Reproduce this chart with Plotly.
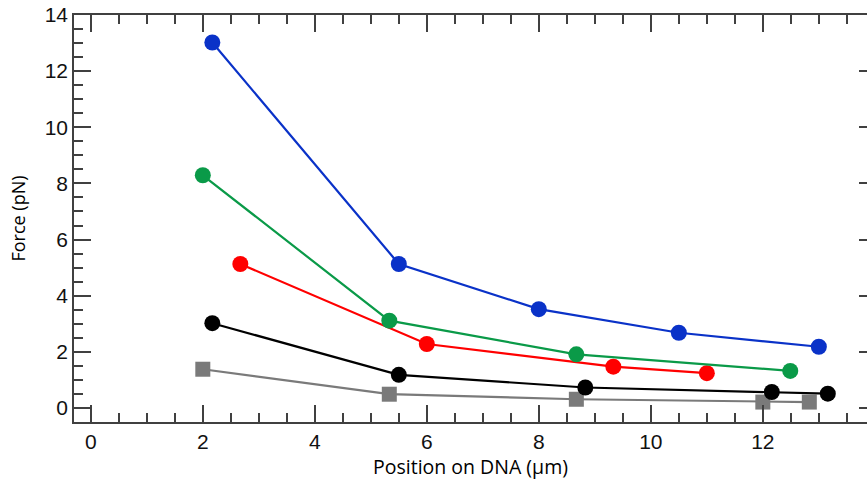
import plotly.graph_objects as go

# Data
blue_x = [2.17, 5.5, 8.0, 10.5, 13.0]
blue_y = [13.02, 5.13, 3.52, 2.68, 2.18]
green_x = [2.0, 5.33, 8.67, 12.49]
green_y = [8.29, 3.11, 1.91, 1.32]
red_x = [2.67, 6.0, 9.33, 11.0]
red_y = [5.13, 2.28, 1.47, 1.24]
black_x = [2.17, 5.5, 8.83, 12.16, 13.16]
black_y = [3.02, 1.18, 0.73, 0.57, 0.51]
gray_x = [2.0, 5.33, 8.67, 12.0, 12.83]
gray_y = [1.38, 0.49, 0.31, 0.21, 0.21]

x_ticks = [0, 2, 4, 6, 8, 10, 12]
y_ticks = [0, 2, 4, 6, 8, 10, 12, 14]

series = [
    (gray_x, gray_y, "#7a7a7a", "square"),
    (black_x, black_y, "#000000", "circle"),
    (red_x, red_y, "#ff0000", "circle"),
    (green_x, green_y, "#0a9a48", "circle"),
    (blue_x, blue_y, "#0a32c8", "circle"),
]

fig = go.Figure()
for xs, ys, col, sym in series:
    fig.add_trace(go.Scatter(
        x=xs, y=ys, mode="lines+markers",
        line=dict(color=col, width=2.2),
        marker=dict(color=col, size=15 if sym == "square" else 16, symbol=sym,
                    line=dict(width=0)),
        showlegend=False, cliponaxis=False,
    ))

# invisible trace for right-hand tick axis
fig.add_trace(go.Scatter(x=[0], y=[0], yaxis="y2", mode="markers",
                         marker=dict(opacity=0), showlegend=False, hoverinfo="skip"))

axcol = "#404040"
tickfont = dict(family="Liberation Sans, Arial", size=21, color="#111111")

fig.update_layout(
    width=867, height=483,
    margin=dict(l=74, r=0, t=15, b=61),
    paper_bgcolor="white", plot_bgcolor="white",
    xaxis=dict(
        range=[-0.3, 13.86], tickvals=x_ticks, ticktext=[str(v) for v in x_ticks],
        ticks="inside", ticklen=17, tickwidth=1.5, tickcolor=axcol,
        minor=dict(dtick=0.5, ticks="inside", ticklen=9, tickwidth=1.5, tickcolor=axcol),
        showline=True, linecolor=axcol, linewidth=1.5, mirror="ticks",
        showgrid=False, zeroline=False, tickfont=tickfont,
        title=dict(text="Position on DNA (µm)",
                   font=dict(family="Open Sans", size=19.5, color="#000000"), standoff=6),
    ),
    yaxis=dict(
        range=[-0.5, 14], tickvals=y_ticks, ticktext=[str(v) for v in y_ticks],
        ticks="inside", ticklen=17, tickwidth=1.5, tickcolor=axcol,
        minor=dict(dtick=0.5, ticks="inside", ticklen=9, tickwidth=1.5, tickcolor=axcol),
        showline=True, linecolor=axcol, linewidth=1.5, mirror=False,
        showgrid=False, zeroline=False, tickfont=tickfont,
        title=dict(text="Force (pN)",
                   font=dict(family="Open Sans", size=18, color="#000000"), standoff=14),
    ),
    yaxis2=dict(
        range=[-0.5, 14], overlaying="y", side="right", anchor="x",
        tickvals=y_ticks, ticks="inside", ticklen=8, tickwidth=1.5, tickcolor=axcol,
        showticklabels=False, showline=False, showgrid=False, zeroline=False,
    ),
)

fig.write_html("out.html")
